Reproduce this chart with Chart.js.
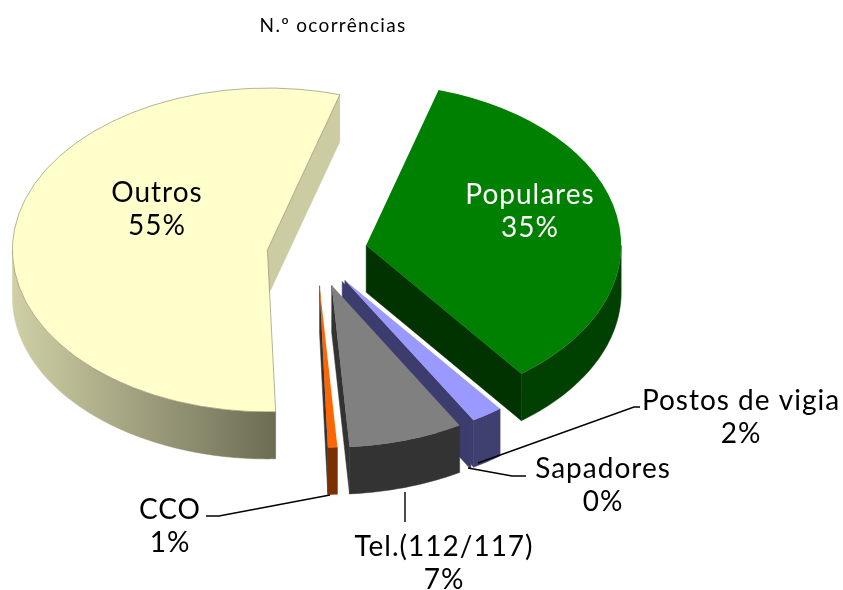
<!DOCTYPE html>
<html><head><meta charset="utf-8">
<style>html,body{margin:0;padding:0;background:#fff}#w{width:843px;height:590px}</style>
<script src="https://cdn.jsdelivr.net/npm/chart.js@4"></script>
</head><body><div id="w"><canvas id="c" width="843" height="590"></canvas></div>
<script>
const categories = ['Populares','Postos de vigia','Sapadores','Tel.(112/117)','CCO','Outros'];
const values = [35.0, 2.0, 0.05, 7.25, 0.6, 55.1];
const percentLabels = ['35%','2%','0%','7%','1%','55%'];
const chartTitle = 'N.º ocorrências';

const topColors = ['#008000','#9999ff','#3c3c6e','#808080','#ff6600','#ffffcc'];
const cutColors = ['#003300','#3c3c6e','#3c3c6e','#333333','#333333','#cccca3'];
const wallStart = ['#004000','#3f3f70','#3f3f70','#333333','#7a3000','#d0d0a6'];
const wallEnd   = ['#004000','#3f3f70','#3f3f70','#333333','#7a3000','#6c6c54'];
const labelColors = ['#fff','#000','#000','#000','#000','#000'];
const labelAt = [[530,195],[741,401],[603,469],[444,547],[170,510],[157,193]];
const leaders = [null,[[478,463],[634,407],[640,407]],[[468,468],[512,476],[526,476]],[[405,492],[405,522]],[[330,495],[219,516],[206,516]],null];
const nudgeY = [-3,0,0,1,0,0];

const TILT = 0.635, DEPTH = 47, EXPLODE = 50;
const FONT = 'Lato, sans-serif';

const pie3d = {
  id:'pie3d',
  beforeDatasetDraw(chart, args){
    const ctx = chart.ctx, arcs = chart.getDatasetMeta(0).data;
    const order = arcs.map((a,i)=>i).sort((p,q)=>{
      const mid = a => (a.startAngle+a.endAngle)/2;
      return Math.sin(mid(arcs[p]))-Math.sin(mid(arcs[q]));
    });
    order.forEach(i=>{
      const el = arcs[i];
      const {x,y,startAngle:a,endAngle:b,outerRadius:r} = el;
      const mid=(a+b)/2, ex=Math.cos(mid)*EXPLODE, ey=Math.sin(mid)*EXPLODE+nudgeY[i]/TILT;
      const P=(t,rad,d=0)=>[x+ex+rad*Math.cos(t), y+TILT*(ey+rad*Math.sin(t))+d];
      const poly=(pts,fill)=>{ctx.beginPath();pts.forEach((p,k)=>k?ctx.lineTo(p[0],p[1]):ctx.moveTo(p[0],p[1]));ctx.closePath();ctx.fillStyle=fill;ctx.fill();ctx.strokeStyle=fill;ctx.lineWidth=0.5;ctx.stroke();};
      const apex=P(0,0), apexD=P(0,0,DEPTH);
      if(Math.cos(a)<0){const e=P(a,r);poly([apex,e,[e[0],e[1]+DEPTH],apexD],cutColors[i]);}
      if(Math.cos(b)>0){const e=P(b,r);poly([apex,e,[e[0],e[1]+DEPTH],apexD],cutColors[i]);}
      for(let k=-1;k<=1;k++){
        const s=Math.max(a,k*2*Math.PI), t=Math.min(b,k*2*Math.PI+Math.PI);
        if(t<=s) continue;
        const top=[],bot=[],n=Math.max(2,Math.ceil((t-s)*60));
        for(let m=0;m<=n;m++){const th=s+(t-s)*m/n;const p=P(th,r);top.push(p);bot.unshift([p[0],p[1]+DEPTH]);}
        const xs=top.map(p=>p[0]);
        const g=ctx.createLinearGradient(Math.min(...xs),0,Math.max(...xs),0);
        g.addColorStop(0,wallStart[i]);g.addColorStop(1,wallEnd[i]);
        poly(top.concat(bot),g);
      }
      ctx.save();
      ctx.translate(x,y);ctx.scale(1,TILT);ctx.translate(ex,ey);ctx.translate(-x,-y);
      el.draw(ctx);
      ctx.restore();
    });
    return false;
  },
  afterDraw(chart){
    const ctx=chart.ctx;
    ctx.save();
    ctx.strokeStyle='#000';ctx.lineWidth=1.4;
    leaders.forEach(l=>{if(!l)return;ctx.beginPath();l.forEach((p,k)=>k?ctx.lineTo(p[0],p[1]):ctx.moveTo(p[0],p[1]));ctx.stroke();});
    ctx.textAlign='center';ctx.textBaseline='middle';
    ctx.font='400 28px '+FONT;ctx.letterSpacing='1px';
    categories.forEach((c,i)=>{
      ctx.fillStyle=labelColors[i];
      ctx.fillText(c,labelAt[i][0],labelAt[i][1]);
      ctx.fillText(percentLabels[i],labelAt[i][0],labelAt[i][1]+33);
    });
    ctx.fillStyle='#000';ctx.font='400 19px '+FONT;ctx.letterSpacing='1.3px';
    ctx.fillText(chartTitle,333,26);
    ctx.restore();
  }
};

new Chart(document.getElementById('c'),{
  type:'pie',
  data:{labels:categories,datasets:[{
    data:values,
    backgroundColor:topColors,
    borderColor:['#008000','#9999ff','#3c3c6e','#808080','#ff6600','#8a8a70'],
    borderWidth:[0,0,0,0,0,0.8],
    radius:255
  }]},
  options:{
    responsive:false,animation:false,rotation:16.5,
    layout:{padding:{left:0,right:209,top:0,bottom:82}},
    plugins:{legend:{display:false},tooltip:{enabled:false},title:{display:false}}
  },
  plugins:[pie3d]
});
</script></body></html>
